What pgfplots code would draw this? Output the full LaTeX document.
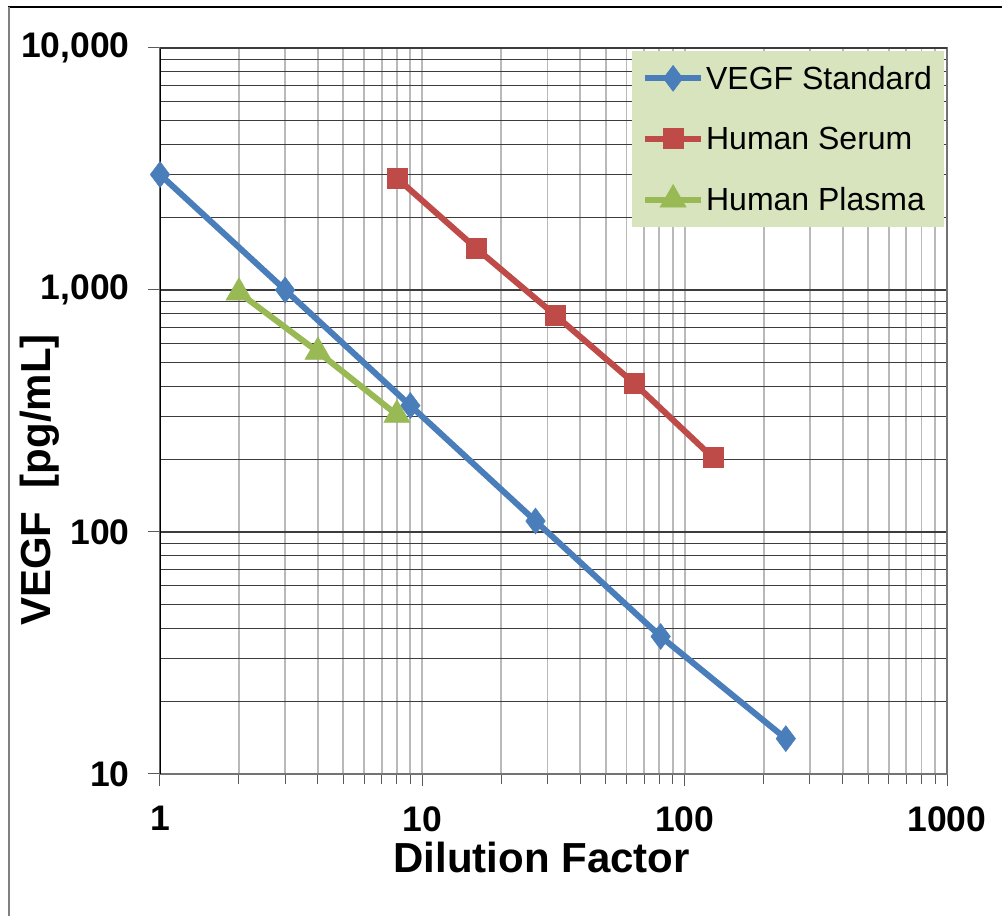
\documentclass[border=0pt]{standalone}
\usepackage{fontspec}
\setmainfont{Liberation Sans}
\usepackage{pgfplots}
\pgfplotsset{compat=1.18}
\definecolor{stdblue}{RGB}{74,126,187}
\definecolor{serumred}{RGB}{190,75,72}
\definecolor{plasmagreen}{RGB}{152,185,84}
\definecolor{legfill}{RGB}{215,228,189}
\definecolor{hgrid}{RGB}{60,60,60}
\definecolor{vgrid}{RGB}{185,185,185}

\begin{document}
\begin{tikzpicture}
\useasboundingbox (-160pt,-142pt) rectangle (842pt,774pt);
\begin{axis}[
  at={(0pt,0pt)}, anchor=south west,
  scale only axis,
  width=787pt, height=726pt,
  xmode=log, ymode=log,
  xmin=1, xmax=1000, ymin=10, ymax=10000,
  xtick={1,10,100,1000}, xticklabels={1,10,100,1000},
  ytick={10,100,1000,10000}, yticklabels={10,100,{1,000},{10,000}},
  tick label style={font=\fontsize{35.5}{40}\selectfont\bfseries},
  /pgf/number format/assume math mode=true,
  tick align=outside,
  major tick length=12pt, minor tick length=10pt,
  tick style={gray!70!black, line width=1pt},
  minor y tick style={draw=none},
  xtick pos=bottom, ytick pos=left,
  grid=both,
  major x grid style={vgrid, line width=1.8pt},
  minor x grid style={vgrid, line width=1.8pt},
  major y grid style={hgrid, line width=1.3pt},
  minor y grid style={hgrid, line width=1.1pt},
  axis line style={gray!90!black, line width=2pt},
  xlabel={Dilution Factor},
  ylabel={VEGF\ \ [pg/mL]},
  label style={font=\fontsize{42}{46}\selectfont\bfseries},
  xlabel style={at={(axis description cs:0.485,-0.135)}, anchor=base},
  ylabel style={at={(axis description cs:-0.1385,0.405)}, anchor=base},
  yticklabel style={xshift=-12pt},
  xticklabel style={yshift=-14pt},
  legend style={at={(1,1)}, anchor=north east, fill=legfill, draw=none,
    font=\fontsize{32}{36}\selectfont, row sep=32pt,
    inner xsep=10pt, inner ysep=13pt, cells={anchor=west}},
  legend image code/.code={%
    \draw[mark repeat=2, mark phase=2] plot coordinates {(0pt,0pt) (28pt,0pt) (56pt,0pt)};},
  line width=6pt,
]
\addplot[stdblue, mark=diamond*, mark size=13pt, mark options={solid, line width=0.5pt}]
  coordinates {(1,3000) (3,1000) (9,333) (27,111) (81,37) (243,14)};
\addplot[serumred, mark=square*, mark size=10pt, mark options={solid, line width=0.5pt}]
  coordinates {(8,2900) (16,1490) (32,790) (64,413) (128,203)};
\addplot[plasmagreen, mark=triangle*, mark size=15pt, mark options={solid, line width=0.5pt}]
  coordinates {(2,975) (4,555) (8,305)};
\legend{VEGF Standard, Human Serum, Human Plasma}
\draw[black, line width=2pt] (rel axis cs:0,0) -- (rel axis cs:0,1);
\draw[hgrid, line width=1.4pt] (rel axis cs:0,1) -- (rel axis cs:1,1);
\end{axis}
\draw[black, line width=1.5pt] (-152pt,767pt) -- (842pt,767pt);
\draw[gray, line width=1.5pt] (-151pt,767pt) -- (-151pt,-142pt);
\end{tikzpicture}
\end{document}
